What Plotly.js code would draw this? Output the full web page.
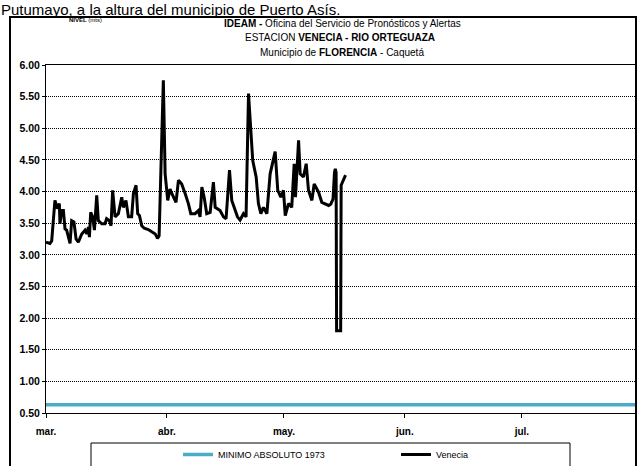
<!DOCTYPE html>
<html>
<head>
<meta charset="utf-8">
<script src="https://cdn.plot.ly/plotly-3.0.1.min.js"></script>
<style>
html,body{margin:0;padding:0;background:#fff;}
#chart{width:637px;height:466px;}
</style>
</head>
<body>
<div id="chart"></div>
<script>
// ---- Data ----
const veneciaDates = [
  '2013-03-01 00:00','2013-03-02 00:00','2013-03-02 11:00','2013-03-03 07:00','2013-03-03 22:00',
  '2013-03-04 10:00','2013-03-04 14:00','2013-03-05 00:00','2013-03-05 11:00','2013-03-05 21:00',
  '2013-03-06 07:00','2013-03-07 04:00','2013-03-07 14:00','2013-03-08 04:00','2013-03-08 17:00',
  '2013-03-09 07:00','2013-03-10 04:00','2013-03-11 00:00','2013-03-11 11:00','2013-03-11 21:00',
  '2013-03-12 03:00','2013-03-12 11:00','2013-03-12 23:00','2013-03-13 10:00','2013-03-14 00:00',
  '2013-03-14 10:00','2013-03-15 07:00','2013-03-16 03:00','2013-03-16 13:00','2013-03-17 06:00',
  '2013-03-17 16:00','2013-03-18 02:00','2013-03-18 17:00','2013-03-19 13:00','2013-03-20 10:00',
  '2013-03-20 20:00','2013-03-21 12:00','2013-03-22 03:00','2013-03-22 23:00','2013-03-23 10:00',
  '2013-03-24 02:00','2013-03-24 12:00','2013-03-24 23:00','2013-03-25 13:00','2013-03-26 05:00',
  '2013-03-27 05:00','2013-03-28 05:00','2013-03-29 00:00','2013-03-29 14:00','2013-03-30 00:00',
  '2013-03-31 02:00','2013-03-31 13:00','2013-04-01 05:00','2013-04-01 19:00','2013-04-02 06:00',
  '2013-04-02 16:00','2013-04-03 08:00','2013-04-03 23:00','2013-04-04 19:00','2013-04-05 16:00',
  '2013-04-06 12:00','2013-04-07 03:00','2013-04-08 05:00','2013-04-09 02:00','2013-04-09 12:00',
  '2013-04-09 23:00','2013-04-10 13:00','2013-04-11 05:00','2013-04-12 02:00','2013-04-12 22:00',
  '2013-04-13 09:00','2013-04-14 15:00','2013-04-15 12:00','2013-04-16 04:00','2013-04-17 01:00',
  '2013-04-17 15:00','2013-04-18 12:00','2013-04-19 02:00','2013-04-19 18:00','2013-04-20 15:00',
  '2013-04-21 07:00','2013-04-21 22:00','2013-04-23 00:00','2013-04-23 21:00','2013-04-24 11:00',
  '2013-04-25 02:00','2013-04-25 18:00','2013-04-26 15:00','2013-04-27 11:00','2013-04-28 18:00',
  '2013-04-29 10:00','2013-04-30 05:00','2013-04-30 21:00','2013-05-01 08:00','2013-05-02 04:00',
  '2013-05-03 00:00','2013-05-03 15:00','2013-05-03 23:00','2013-05-04 18:00','2013-05-05 04:00',
  '2013-05-06 00:00','2013-05-06 17:00','2013-05-07 07:00','2013-05-08 04:00','2013-05-08 18:00',
  '2013-05-09 21:00','2013-05-10 17:00','2013-05-11 14:00','2013-05-12 11:00','2013-05-13 00:00',
  '2013-05-13 14:00','2013-05-13 23:00','2013-05-14 04:00','2013-05-14 09:00','2013-05-14 12:00',
  '2013-05-15 13:00','2013-05-15 16:00','2013-05-16 19:00'
];
const veneciaNivel = [
  3.20,3.18,3.22,3.86,3.73,
  3.81,3.49,3.70,3.70,3.41,
  3.39,3.18,3.54,3.52,3.25,
  3.20,3.33,3.39,3.33,3.44,
  3.28,3.67,3.60,3.39,3.94,
  3.54,3.49,3.49,3.57,3.54,
  3.46,4.02,3.60,3.65,3.91,
  3.75,3.86,3.60,3.60,3.97,
  4.10,3.65,3.62,3.46,3.42,
  3.40,3.36,3.33,3.26,3.30,
  5.76,4.28,3.86,4.04,3.97,
  3.91,3.83,4.18,4.12,3.97,
  3.81,3.65,3.65,3.70,3.60,
  4.07,3.91,3.65,3.67,4.15,
  3.75,3.70,3.60,3.57,4.34,
  3.86,3.70,3.60,3.55,3.65,
  3.60,5.55,4.49,4.23,3.81,
  3.65,3.75,3.65,4.28,4.63,
  4.02,3.91,4.02,3.62,3.81,
  3.75,4.44,3.91,4.81,4.28,
  4.23,4.44,4.02,3.86,4.12,
  3.99,3.83,3.81,3.78,3.80,
  3.88,4.30,4.36,4.30,1.80,
  1.80,4.10,4.26
];
const minimoDates = ['2013-03-01','2013-07-30'];
const minimoNivel = [0.63, 0.63];

const monthTickVals = ['2013-03-01','2013-04-01','2013-05-01','2013-06-01','2013-07-01'];
const monthTickText = ['mar.','abr.','may.','jun.','jul.'];
const yTickVals = [0.5,1.0,1.5,2.0,2.5,3.0,3.5,4.0,4.5,5.0,5.5,6.0];

// ---- Layout helpers (pixel -> paper) ----
const W = 637, H = 466, ML = 46, MR = 2, MT = 65, MB = 53;
const PW = W - ML - MR, PH = H - MT - MB;
const xp = px => (px - ML) / PW;
const yp = py => (H - MB - py) / PH;

const narrow = 'Liberation Sans Narrow, Arial Narrow, Liberation Sans, Arial, sans-serif';
const sans = 'Liberation Sans, Arial, sans-serif';
const legFont = {family: narrow, size: 9, color: '#000'};

const traces = [
  {
    x: minimoDates, y: minimoNivel, type: 'scatter', mode: 'lines',
    name: 'MINIMO ABSOLUTO 1973', legend: 'legend',
    line: {color: '#4BACC6', width: 3.5}
  },
  {
    x: veneciaDates, y: veneciaNivel, type: 'scatter', mode: 'lines',
    name: 'Venecia', legend: 'legend2',
    line: {color: '#000000', width: 3}
  }
];

const layout = {
  width: W, height: H,
  margin: {l: ML, r: MR, t: MT, b: MB, pad: 0, autoexpand: false},
  paper_bgcolor: '#ffffff', plot_bgcolor: '#ffffff',
  showlegend: true,
  legend: {
    orientation: 'h', x: xp(178), y: yp(440), xanchor: 'left', yanchor: 'top',
    font: legFont, bgcolor: 'rgba(0,0,0,0)', borderwidth: 0, itemwidth: 30
  },
  legend2: {
    orientation: 'h', x: xp(396), y: yp(440), xanchor: 'left', yanchor: 'top',
    font: legFont, bgcolor: 'rgba(0,0,0,0)', borderwidth: 0, itemwidth: 30
  },
  xaxis: {
    type: 'date',
    range: ['2013-03-01', '2013-07-30'],
    tickmode: 'array', tickvals: monthTickVals, ticktext: monthTickText,
    ticks: 'outside', ticklen: 4, tickcolor: '#000', tickwidth: 1,
    ticklabelstandoff: 5,
    tickfont: {family: sans, size: 10, color: '#000', weight: 'bold'},
    showgrid: false, zeroline: false,
    showline: true, linecolor: '#000', linewidth: 1, mirror: true
  },
  yaxis: {
    range: [0.5, 6.0],
    tickmode: 'array', tickvals: yTickVals, tickformat: '.2f',
    ticks: 'outside', ticklen: 3, tickcolor: '#000', tickwidth: 1,
    tickfont: {family: sans, size: 10.5, color: '#000', weight: 'bold'},
    showgrid: true, gridcolor: '#000', gridwidth: 1, griddash: '1px,1px',
    zeroline: false,
    showline: true, linecolor: '#000', linewidth: 1, mirror: true
  },
  shapes: [
    {type: 'rect', xref: 'paper', yref: 'paper',
     x0: xp(10), x1: xp(636), y0: yp(468), y1: yp(17),
     line: {color: '#000', width: 2}, fillcolor: 'rgba(0,0,0,0)', layer: 'above'},
    {type: 'rect', xref: 'paper', yref: 'paper',
     x0: xp(91), x1: xp(570), y0: yp(470), y1: yp(443),
     line: {color: '#000', width: 1}, fillcolor: 'rgba(0,0,0,0)', layer: 'above'}
  ],
  annotations: [
    {text: 'Putumayo, a la altura del municipio de Puerto Asís.', xref: 'paper', yref: 'paper',
     x: xp(0), y: yp(0), xanchor: 'left', yanchor: 'top', showarrow: false, borderpad: 0,
     font: {family: sans, size: 15, color: '#000'}},
    {text: '<b>NIVEL</b> (mts)', xref: 'paper', yref: 'paper',
     x: xp(85), y: yp(20), xanchor: 'center', yanchor: 'middle', showarrow: false,
     font: {family: narrow, size: 6, color: '#000'}},
    {text: '<b>IDEAM -</b> Oficina del Servicio de Pronósticos y Alertas', xref: 'paper', yref: 'paper',
     x: xp(342), y: yp(23), xanchor: 'center', yanchor: 'middle', showarrow: false,
     font: {family: narrow, size: 10, color: '#000'}},
    {text: 'ESTACION <b>VENECIA - RIO ORTEGUAZA</b>', xref: 'paper', yref: 'paper',
     x: xp(340), y: yp(37), xanchor: 'center', yanchor: 'middle', showarrow: false,
     font: {family: narrow, size: 10, color: '#000'}},
    {text: 'Municipio de <b>FLORENCIA</b> - Caquetá', xref: 'paper', yref: 'paper',
     x: xp(342), y: yp(52), xanchor: 'center', yanchor: 'middle', showarrow: false,
     font: {family: narrow, size: 10, color: '#000'}}
  ]
};

Plotly.newPlot('chart', traces, layout, {displayModeBar: false, staticPlot: true});
</script>
</body>
</html>
